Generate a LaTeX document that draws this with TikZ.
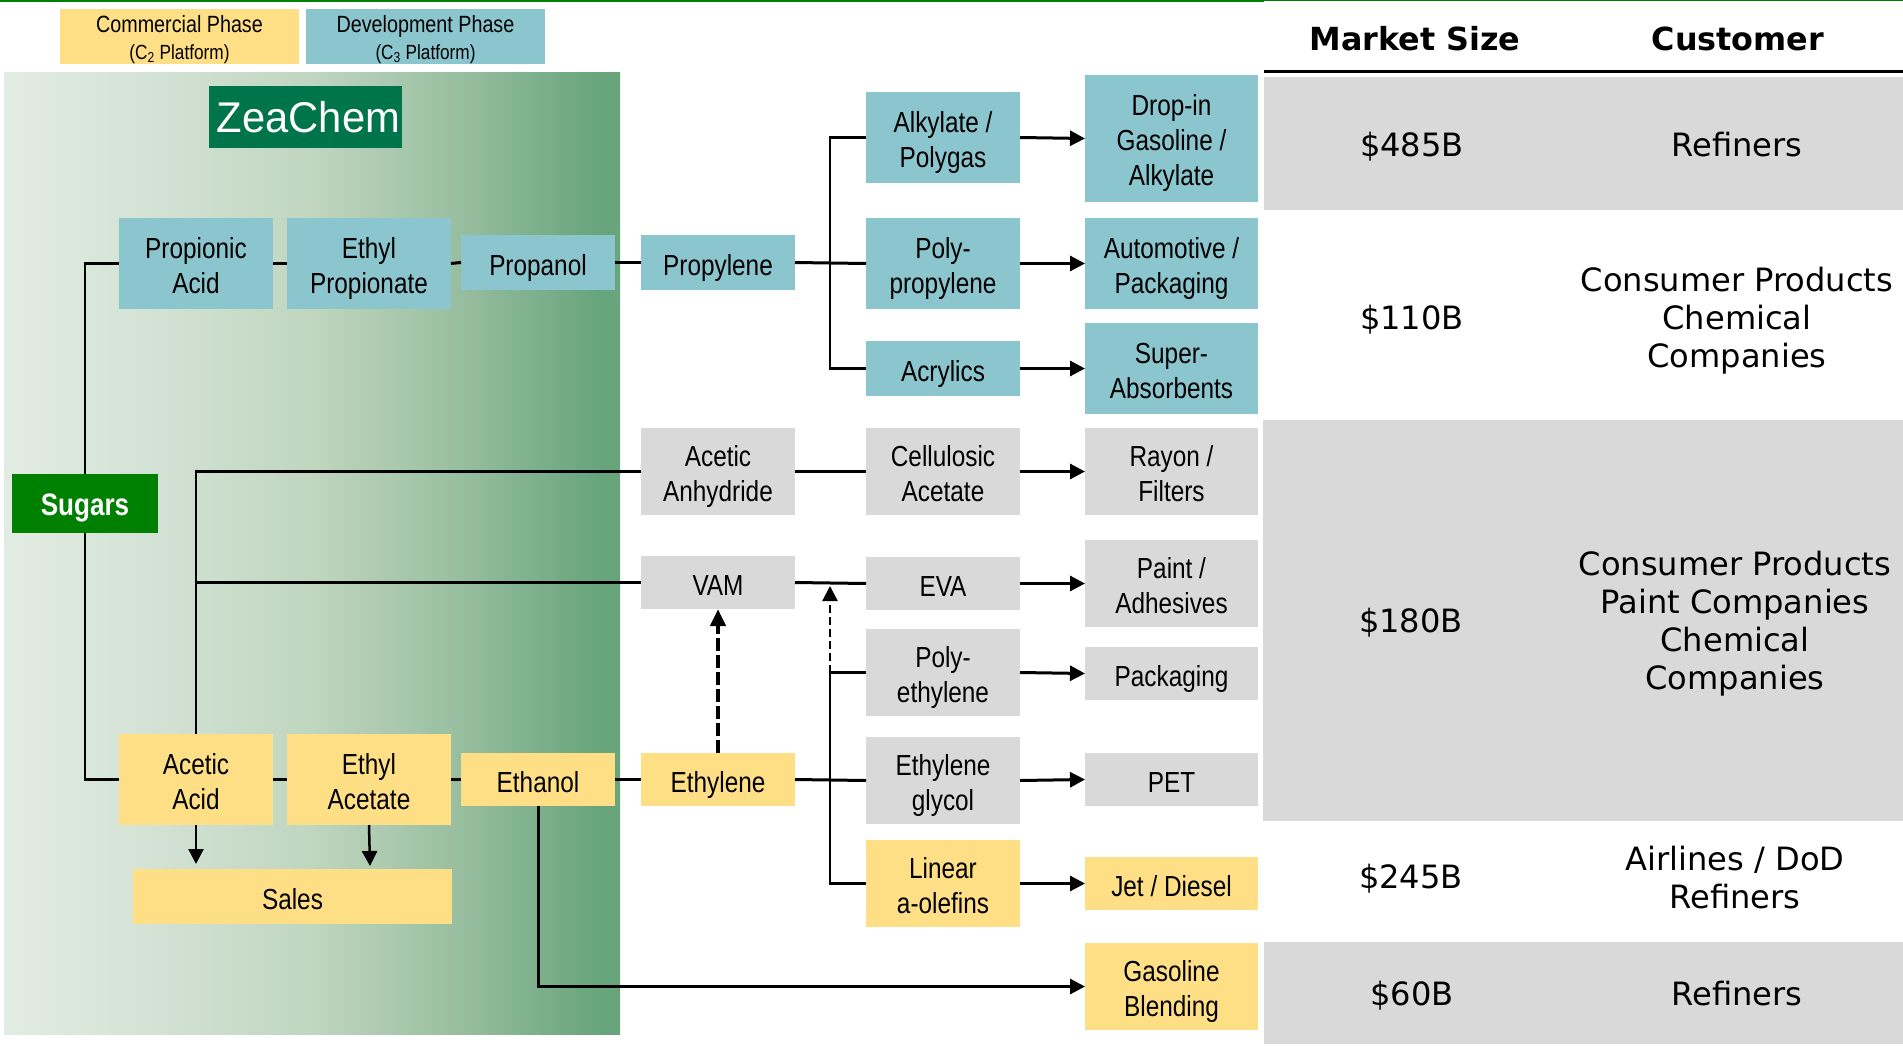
\documentclass[tikz,border=0pt]{standalone}
\usepackage{fontspec}
\usetikzlibrary{arrows.meta}
\newfontfamily\lab[FakeStretch=0.84]{Liberation Sans}
\newfontfamily\zea[FakeStretch=0.97]{Liberation Sans}
\newfontfamily\tbl{DejaVu Sans}
\definecolor{yel}{HTML}{FFDF85}
\definecolor{tea}{HTML}{8BC5CE}
\definecolor{gry}{HTML}{D9D9D9}
\definecolor{grn}{HTML}{008000}
\definecolor{zgr}{HTML}{00744A}
\definecolor{gA}{HTML}{E3ECE3}
\definecolor{gB}{HTML}{D2E2D4}
\definecolor{gC}{HTML}{C0D6BF}
\definecolor{gD}{HTML}{96BD9E}
\definecolor{gE}{HTML}{68A57D}
\pgfdeclarehorizontalshading{zeashade}{100bp}{color(0bp)=(gA); color(25bp)=(gA); color(37.5bp)=(gB); color(50bp)=(gC); color(62.5bp)=(gD); color(73bp)=(gE); color(100bp)=(gE)}
\newsavebox{\lblbox}
\newcommand{\lbl}[2]{\sbox{\lblbox}{\begin{tabular}{@{}c@{}}#2\end{tabular}}\raisebox{-#1pt}[\ht\lblbox][\dp\lblbox]{\usebox{\lblbox}}}
\newcommand{\bx}[7]{%
  \pgfmathsetmacro\cxx{(#2+#4)/2}\pgfmathsetmacro\cyy{(#3+#5)/2}%
  \pgfmathsetmacro\wdd{#4-#2}\pgfmathsetmacro\htt{#5-#3}%
  \node[#6,minimum width=\wdd pt,minimum height=\htt pt] (#1) at (\cxx,\cyy) {#7};}
\tikzset{
  boxbase/.style={inner sep=0pt,outer sep=0pt,text=black,font=\lab\fontsize{29}{35}\selectfont},
  ybox/.style={boxbase,fill=yel},
  tbox/.style={boxbase,fill=tea},
  gbox/.style={boxbase,fill=gry},
  legendbox/.style={inner sep=0pt,outer sep=0pt,font=\lab\fontsize{23.5}{27}\selectfont},
  conn/.style={draw=black,line width=3pt},
  thinconn/.style={draw=black,line width=2.5pt},
  arr/.style={conn,-{Triangle[length=15pt,width=15pt]}},
  dasharrA/.style={draw=black,line width=4.5pt,dash pattern=on 13pt off 4pt,-{Triangle[length=17pt,width=15pt]}},
  dasharrB/.style={draw=black,line width=2.2pt,dash pattern=on 8pt off 4pt,-{Triangle[length=15pt,width=15pt]}},
  hdr/.style={inner sep=0pt,font=\tbl\bfseries\fontsize{31.8}{38}\selectfont},
  val/.style={inner sep=0pt,font=\tbl\fontsize{32.1}{38}\selectfont},
}
\begin{document}
\begin{tikzpicture}[x=1pt,y=-1pt]
\useasboundingbox (0,0) rectangle (1903,1046);
% top rule
\fill[grn] (0,0) rectangle (1264,2.4);
\fill[grn] (1264,0) rectangle (1903,1.2);
% background panel
\shade[shading=zeashade] (4,73) rectangle (620,1034);
% table bands
\fill[gry] (1264,77) rectangle (1903,210);
\fill[gry] (1263,420) rectangle (1903,821);
\fill[gry] (1264,942) rectangle (1903,1044);
\fill[black] (1264,70.5) rectangle (1903,73.5);
% legend
\bx{lc}{60}{9}{299}{64}{legendbox,fill=yel}{\lbl{4}{Commercial Phase\\{\fontsize{20.5}{24}\selectfont (C\textsubscript{2} Platform)}}}
\bx{ld}{306}{9}{545}{64}{legendbox,fill=tea}{\lbl{4}{Development Phase\\{\fontsize{20.5}{24}\selectfont (C\textsubscript{3} Platform)}}}
% logo + source
\bx{zc}{209}{86}{402}{148}{inner sep=0pt,fill=zgr,text=white,font=\zea\fontsize{43}{48}\selectfont}{\hspace{6pt}ZeaChem}
\bx{sugars}{12}{474}{158}{533}{inner sep=0pt,outer sep=0pt,fill=grn,text=white,font=\lab\bfseries\fontsize{31}{35}\selectfont}{\lbl{5}{Sugars}}
% C3 row
\bx{propac}{119}{218}{273}{309}{tbox}{\lbl{5.5}{Propionic\\Acid}}
\bx{ethprop}{287}{218}{451}{309}{tbox}{\lbl{5.5}{Ethyl\\Propionate}}
\bx{propanol}{461}{235}{615}{290}{tbox}{\lbl{5.5}{Propanol}}
\bx{propylene}{641}{235}{795}{290}{tbox}{\lbl{5.5}{Propylene}}
\bx{alky}{866}{92}{1020}{183}{tbox}{\lbl{5.5}{Alkylate /\\Polygas}}
\bx{polyprop}{866}{218}{1020}{309}{tbox}{\lbl{5.5}{Poly-\\propylene}}
\bx{acry}{866}{341}{1020}{396}{tbox}{\lbl{5.5}{Acrylics}}
\bx{dropin}{1085}{75}{1258}{202}{tbox}{\lbl{5.5}{Drop-in\\Gasoline /\\Alkylate}}
\bx{auto}{1085}{218}{1258}{309}{tbox}{\lbl{5.5}{Automotive /\\Packaging}}
\bx{super}{1085}{323}{1258}{414}{tbox}{\lbl{5.5}{Super-\\Absorbents}}
% grey rows
\bx{anhy}{641}{428}{795}{515}{gbox}{\lbl{5.5}{Acetic\\Anhydride}}
\bx{cell}{866}{428}{1020}{515}{gbox}{\lbl{5.5}{Cellulosic\\Acetate}}
\bx{rayon}{1085}{428}{1258}{515}{gbox}{\lbl{5.5}{Rayon /\\Filters}}
\bx{vam}{641}{556}{795}{609}{gbox}{\lbl{5.5}{VAM}}
\bx{eva}{866}{557}{1020}{610}{gbox}{\lbl{5.5}{EVA}}
\bx{paint}{1085}{540}{1258}{627}{gbox}{\lbl{5.5}{Paint /\\Adhesives}}
\bx{polyeth}{866}{629}{1020}{716}{gbox}{\lbl{5.5}{Poly-\\ethylene}}
\bx{pack}{1085}{647}{1258}{700}{gbox}{\lbl{5.5}{Packaging}}
\bx{glyc}{866}{737}{1020}{824}{gbox}{\lbl{5.5}{Ethylene\\glycol}}
\bx{pet}{1085}{753}{1258}{806}{gbox}{\lbl{5.5}{PET}}
% C2 row
\bx{acid}{119}{734}{273}{825}{ybox}{\lbl{5.5}{Acetic\\Acid}}
\bx{ethac}{287}{734}{451}{825}{ybox}{\lbl{5.5}{Ethyl\\Acetate}}
\bx{ethanol}{461}{753}{615}{806}{ybox}{\lbl{5.5}{Ethanol}}
\bx{ethylene}{641}{753}{795}{806}{ybox}{\lbl{5.5}{Ethylene}}
\bx{sales}{133}{869}{452}{924}{ybox}{\lbl{5.5}{Sales}}
\bx{linear}{866}{840}{1020}{927}{ybox}{\lbl{5.5}{Linear\\a-olefins}}
\bx{jet}{1085}{857}{1258}{910}{ybox}{\lbl{5.5}{Jet / Diesel}}
\bx{gasb}{1085}{943}{1258}{1030}{ybox}{\lbl{5.5}{Gasoline\\Blending}}
% helper points
\coordinate (tA) at (830,263.5);
\coordinate (tB) at (830,672.5);
\coordinate (tC) at (830,586);
\coordinate (sA) at (196,864);
\coordinate (sB) at (370,866);
\coordinate (vJ) at (196,582.5);
% connectors
\draw[thinconn] (sugars.north) |- (propac.west);
\draw[thinconn] (sugars.south) |- (acid.west);
\draw[conn] (propac.east) -- (ethprop.west);
\draw[conn] (ethprop.east) -- (propanol.west);
\draw[conn] (propanol.east) -- (propylene.west);
\draw[conn] (propylene.east) -- (polyprop.west);
\draw[thinconn] (alky.west) -| (tA) |- (acry.west);
\draw[arr] (alky.east) -- (dropin.west);
\draw[arr] (polyprop.east) -- (auto.west);
\draw[arr] (acry.east) -- (super.west);
\draw[thinconn] (acid.north) |- (anhy.west);
\draw[conn] (vJ) -- (vam.west);
\draw[conn] (anhy.east) -- (cell.west);
\draw[arr] (cell.east) -- (rayon.west);
\draw[conn] (vam.east) -- (eva.west);
\draw[arr] (eva.east) -- (paint.west);
\draw[arr] (polyeth.east) -- (pack.west);
\draw[arr] (glyc.east) -- (pet.west);
\draw[arr] (linear.east) -- (jet.west);
\draw[conn] (acid.east) -- (ethac.west);
\draw[conn] (ethac.east) -- (ethanol.west);
\draw[conn] (ethanol.east) -- (ethylene.west);
\draw[conn] (ethylene.east) -- (glyc.west);
\draw[thinconn] (polyeth.west) -| (tB) |- (linear.west);
\draw[thinconn,-{Triangle[length=15pt,width=15pt]}] (acid.south) -- (sA);
\draw[thinconn,-{Triangle[length=15pt,width=15pt]}] (ethac.south) -- (sB);
\draw[arr] (ethanol.south) |- (gasb.west);
\draw[dasharrA] (ethylene.north) -- (vam.south);
\draw[dasharrB] (tB) -- (tC);
% table text
\node[hdr] (hm) at (1415,39) {Market Size};
\node[hdr] (hc) at (1738,39) {Customer};
\node[val] (m1) at (1412,145) {\lbl{3.6}{\$485B}};
\node[val] (c1) at (1737,145) {\lbl{3.6}{Refiners}};
\node[val] (m2) at (1412,318) {\lbl{3.6}{\$110B}};
\node[val] (c2) at (1737,318) {\lbl{3.6}{Consumer Products\\Chemical\\Companies}};
\node[val] (m3) at (1411,621) {\lbl{3.6}{\$180B}};
\node[val] (c3) at (1735,621) {\lbl{3.6}{Consumer Products\\Paint Companies\\Chemical\\Companies}};
\node[val] (m4) at (1411,877) {\lbl{3.6}{\$245B}};
\node[val] (c4) at (1735,878) {\lbl{3.6}{Airlines / DoD\\Refiners}};
\node[val] (m5) at (1412,994) {\lbl{3.6}{\$60B}};
\node[val] (c5) at (1737,994) {\lbl{3.6}{Refiners}};
\end{tikzpicture}
\end{document}
